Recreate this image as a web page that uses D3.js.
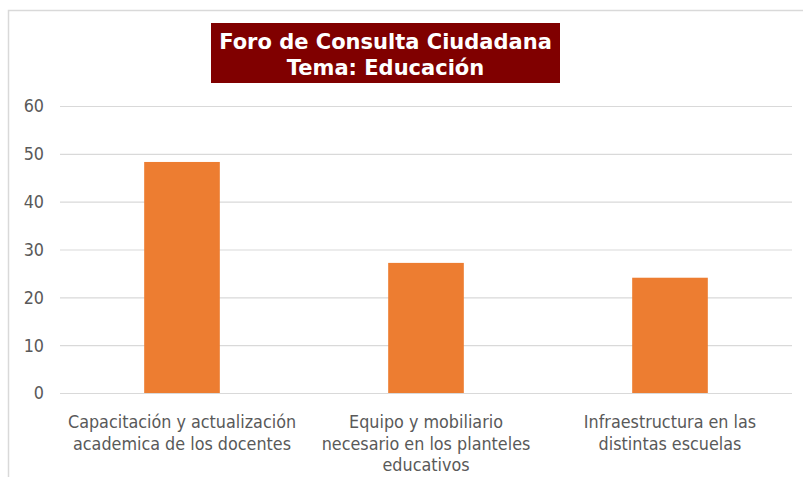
<!DOCTYPE html>
<html>
<head>
<meta charset="utf-8">
<script src="https://cdn.jsdelivr.net/npm/d3@7"></script>
<style>
  body { margin: 0; background: #fff; }
  svg { display: block; }
</style>
</head>
<body>
<div id="chart"></div>
<script>
// data
const categories = [
    "Capacitación y actualización\nacademica de los docentes",
    "Equipo y mobiliario\nnecesario en los planteles\neducativos",
    "Infraestructura en las\ndistintas escuelas"
];
const values = [48.3, 27.2, 24.1];
const yTicks = [0, 10, 20, 30, 40, 50, 60];
const titleLines = ["Foro de Consulta Ciudadana", "Tema: Educación"];

const W = 803, H = 477;
const margin = {top: 106, right: 11, bottom: 84, left: 60};
const width = W - margin.left - margin.right,
      height = H - margin.top - margin.bottom;

const labelFont = "17.8px 'DejaVu Sans', Tahoma, sans-serif";

const svg = d3.select("#chart")
    .append("svg")
    .attr("width", W)
    .attr("height", H);

// chart frame
svg.append("rect")
    .attr("x", 8.5).attr("y", 10.5)
    .attr("width", 810).attr("height", 480)
    .attr("fill", "#fff")
    .attr("stroke", "#d9d9d9")
    .attr("stroke-width", 1.5);

const g = svg.append("g")
    .attr("transform", `translate(${margin.left},${margin.top})`);

const x = d3.scaleBand()
    .domain(categories)
    .range([0, width])
    .paddingInner(0.69)
    .paddingOuter(0.345);

const y = d3.scaleLinear()
    .domain([0, 60])
    .range([height, 0]);

// gridlines
g.append("g")
    .call(d3.axisLeft(y).tickValues(yTicks).tickSize(-width).tickFormat(""))
    .call(a => a.select(".domain").remove())
    .selectAll("line")
    .attr("stroke", "#d9d9d9")
    .attr("stroke-width", 1.2);

// y labels
g.append("g")
    .selectAll("text")
    .data(yTicks)
    .enter()
    .append("text")
    .attr("x", -16)
    .attr("y", d => y(d))
    .attr("dy", "0.36em")
    .attr("text-anchor", "end")
    .attr("fill", "#595959")
    .style("font", labelFont)
    .style("font-stretch", "condensed")
    .text(d => d);

// bars
g.selectAll("rect.bar")
    .data(values)
    .enter()
    .append("rect")
    .attr("class", "bar")
    .attr("x", (d, i) => x(categories[i]))
    .attr("y", d => y(d))
    .attr("width", x.bandwidth())
    .attr("height", d => height - y(d))
    .attr("fill", "#ed7d31");

// category labels
const cl = g.append("g")
    .selectAll("text")
    .data(categories)
    .enter()
    .append("text")
    .attr("text-anchor", "middle")
    .attr("fill", "#595959")
    .style("font", labelFont)
    .style("font-stretch", "condensed")
    .attr("transform", d => `translate(${x(d) + x.bandwidth() / 2},${height + 35})`);

cl.selectAll("tspan")
    .data(d => d.split("\n"))
    .enter()
    .append("tspan")
    .attr("x", 0)
    .attr("y", (d, i) => i * 21.5)
    .text(d => d);

// title box
const title = svg.append("g");
title.append("rect")
    .attr("x", 211).attr("y", 23)
    .attr("width", 349).attr("height", 60)
    .attr("fill", "#800000");
title.selectAll("text")
    .data(titleLines)
    .enter()
    .append("text")
    .attr("x", 385.5)
    .attr("y", (d, i) => 49 + i * 26)
    .attr("text-anchor", "middle")
    .attr("fill", "#fff")
    .style("font", "bold 21px 'DejaVu Sans', Verdana, sans-serif")
    .text(d => d);
</script>
</body>
</html>
